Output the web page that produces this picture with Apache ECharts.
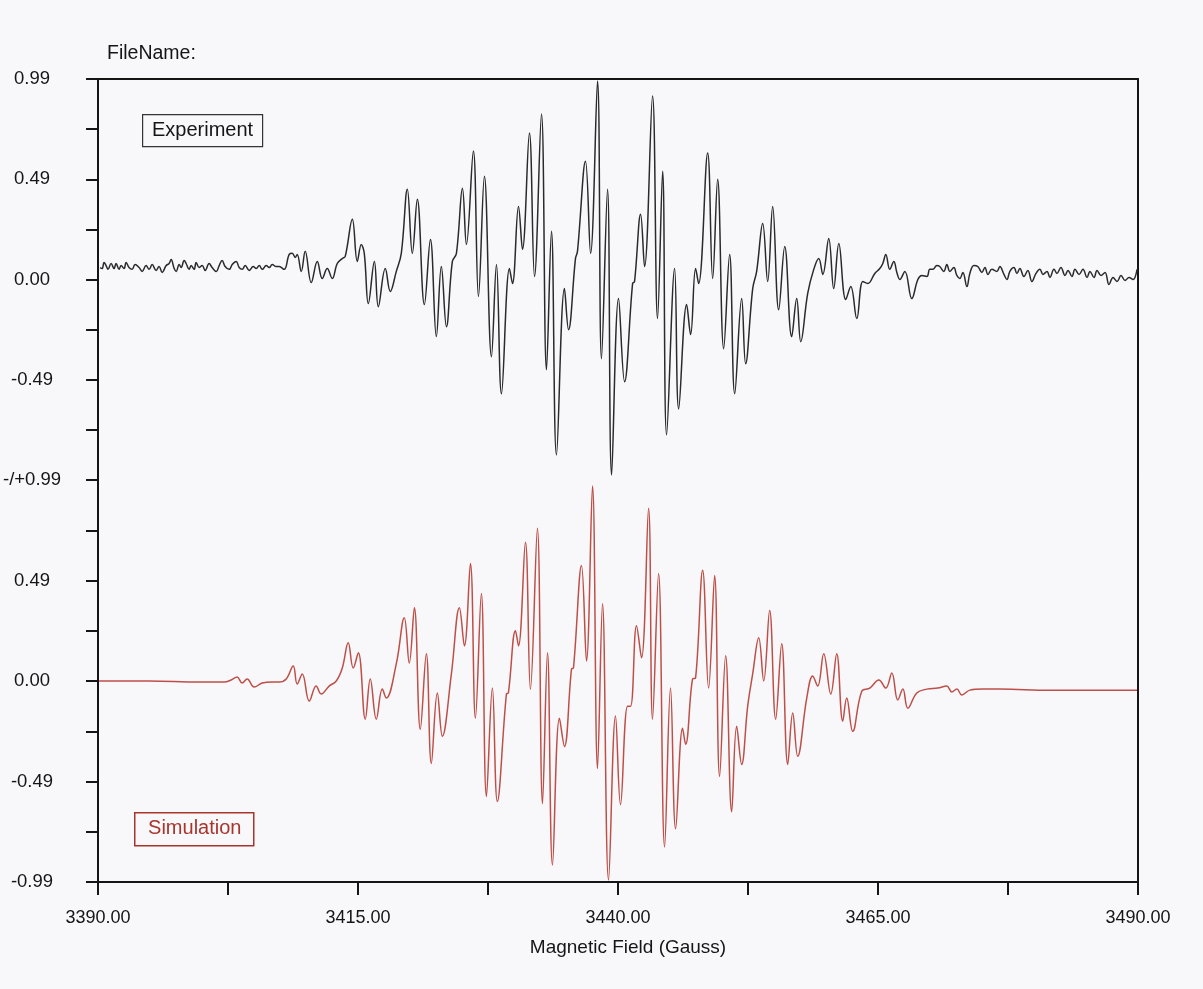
<!DOCTYPE html>
<html>
	<head>
		<title>EPR spectrum</title>
		<meta charset="UTF-8">
		<script src="https://cdn.jsdelivr.net/npm/echarts@6/dist/echarts.min.js" type="text/javascript"></script>
		<style>
			html, body { margin: 0; padding: 0; background: #f8f8fa; }
			#chart { width: 1203px; height: 989px; }
		</style>
	</head>
	<body>
		<div id="chart"></div>
		<script type="text/javascript">
			// values: [field (G), normalised intensity]
			var expPoints = [
				[3390.19,0.059],[3390.39,0.054],[3390.58,0.084],[3390.77,0.069],[3390.96,0.050],[3391.25,0.079],[3391.54,0.054],[3391.73,0.079],[3392.02,0.050],[3392.21,0.069],
				[3392.50,0.054],[3392.70,0.084],[3392.98,0.059],[3393.27,0.050],[3393.56,0.074],[3393.95,0.059],[3394.24,0.040],[3394.62,0.069],[3394.91,0.050],[3395.20,0.074],
				[3395.58,0.045],[3395.87,0.064],[3396.16,0.035],[3396.55,0.069],[3396.83,0.079],[3397.03,0.099],[3397.32,0.054],[3397.51,0.040],[3397.80,0.074],[3397.99,0.059],
				[3398.28,0.094],[3398.47,0.079],[3398.76,0.050],[3398.95,0.069],[3399.24,0.050],[3399.43,0.084],[3399.72,0.059],[3400.01,0.069],[3400.30,0.045],[3400.68,0.079],
				[3400.97,0.059],[3401.36,0.040],[3401.65,0.069],[3401.93,0.094],[3402.22,0.064],[3402.61,0.050],[3402.90,0.074],[3403.28,0.089],[3403.57,0.059],[3403.86,0.050],
				[3404.15,0.069],[3404.53,0.045],[3404.92,0.064],[3405.21,0.054],[3405.50,0.069],[3405.79,0.050],[3406.17,0.069],[3406.46,0.059],[3406.75,0.074],[3407.13,0.064],
				[3407.42,0.064],[3407.90,0.050],[3408.38,0.124],[3408.67,0.129],[3408.96,0.109],[3409.15,0.124],[3409.54,0.040],[3409.92,0.139],[3410.50,-0.015],[3411.08,0.089],
				[3411.56,0.005],[3412.04,0.054],[3412.52,0.005],[3413.00,0.079],[3413.49,0.104],[3413.77,0.114],[3414.45,0.297],[3414.93,0.089],[3415.31,0.173],[3415.60,0.129],
				[3415.99,-0.119],[3416.57,0.089],[3416.95,-0.134],[3417.62,0.054],[3418.10,-0.059],[3418.68,0.040],[3419.16,0.129],[3419.74,0.446],[3420.22,0.129],[3420.70,0.396],
				[3421.38,-0.124],[3421.96,0.198],[3422.53,-0.282],[3423.01,0.064],[3423.50,-0.233],[3424.07,0.089],[3424.46,0.129],[3425.04,0.450],[3425.42,0.173],[3426.09,0.634],
				[3426.58,-0.084],[3427.15,0.510],[3427.83,-0.381],[3428.31,0.074],[3428.79,-0.564],[3429.56,0.054],[3429.85,-0.020],[3430.43,0.361],[3430.81,0.149],[3431.48,0.723],
				[3431.97,0.015],[3432.64,0.817],[3433.12,-0.446],[3433.60,0.238],[3434.08,-0.866],[3434.85,-0.045],[3435.24,-0.248],[3435.91,0.104],[3436.10,0.139],[3436.87,0.584],
				[3437.36,0.129],[3438.03,0.980],[3438.41,-0.391],[3438.99,0.446],[3439.38,-0.965],[3440.05,-0.094],[3440.63,-0.505],[3441.40,-0.020],[3441.59,-0.010],[3442.17,0.322],
				[3442.55,0.064],[3443.32,0.906],[3443.80,-0.193],[3444.29,0.535],[3444.67,-0.767],[3445.44,0.054],[3445.83,-0.639],[3446.60,-0.124],[3446.98,-0.272],[3447.46,0.054],
				[3447.75,-0.020],[3448.62,0.624],[3449.10,0.005],[3449.58,0.495],[3450.16,-0.342],[3450.73,0.124],[3451.22,-0.564],[3451.89,-0.094],[3452.27,-0.416],[3452.95,-0.045],
				[3453.33,0.040],[3453.91,0.277],[3454.39,-0.010],[3454.87,0.361],[3455.45,-0.149],[3456.03,0.163],[3456.70,-0.282],[3457.18,-0.094],[3457.57,-0.307],[3458.24,-0.069],
				[3458.82,0.050],[3459.30,0.104],[3459.69,0.025],[3460.26,0.203],[3460.74,-0.045],[3461.23,0.178],[3461.90,-0.099],[3462.38,-0.035],[3462.96,-0.193],[3463.54,-0.010],
				[3464.02,-0.020],[3464.69,0.030],[3465.17,0.054],[3465.46,0.079],[3465.75,0.124],[3466.13,0.050],[3466.52,0.089],[3466.81,0.035],[3467.10,0.000],[3467.58,0.040],
				[3468.25,-0.094],[3468.83,0.000],[3469.21,0.020],[3469.70,0.015],[3469.98,0.050],[3470.27,0.050],[3470.66,0.069],[3470.94,0.064],[3471.33,0.040],[3471.62,0.074],
				[3471.91,0.040],[3472.29,0.059],[3472.58,0.020],[3472.87,0.005],[3473.16,0.035],[3473.55,-0.035],[3473.83,0.030],[3474.22,0.069],[3474.60,0.064],[3474.99,0.035],
				[3475.28,0.059],[3475.57,0.025],[3475.95,0.050],[3476.43,0.040],[3476.72,0.064],[3477.11,0.025],[3477.40,0.000],[3477.68,0.040],[3478.07,0.059],[3478.36,0.030],
				[3478.64,0.054],[3479.03,0.015],[3479.41,0.045],[3479.80,-0.010],[3480.19,0.030],[3480.57,0.050],[3480.86,0.025],[3481.25,0.040],[3481.53,0.010],[3481.92,0.050],
				[3482.21,0.030],[3482.59,0.059],[3482.98,0.020],[3483.27,0.045],[3483.65,0.015],[3483.94,0.050],[3484.33,0.025],[3484.71,0.050],[3485.10,0.010],[3485.38,0.040],
				[3485.77,0.010],[3486.06,0.045],[3486.44,0.020],[3486.83,0.035],[3487.21,-0.025],[3487.60,0.010],[3487.98,-0.010],[3488.37,0.020],[3488.75,-0.005],[3489.14,0.010],
				[3489.52,0.000],[3489.91,0.050]
			];

			var simPoints = [
				[3390.10,0],[3394.91,0],[3399.72,-0.005],[3402.13,-0.005],[3402.80,0.005],[3403.38,0.020],[3403.86,-0.010],[3404.34,0.010],[3405.02,-0.030],[3405.79,-0.010],
				[3406.75,-0.005],[3407.42,-0.005],[3408.10,0.010],[3408.77,0.074],[3409.15,-0.015],[3409.64,0.035],[3410.31,-0.099],[3410.98,-0.025],[3411.46,-0.064],[3412.23,-0.025],
				[3412.91,0],[3413.49,0.064],[3414.06,0.188],[3414.54,0.064],[3415.03,0.139],[3415.70,-0.188],[3416.18,0.010],[3416.76,-0.188],[3417.34,-0.040],[3417.72,-0.084],
				[3418.68,0.084],[3419.45,0.312],[3419.93,0.089],[3420.42,0.361],[3420.99,-0.238],[3421.57,0.134],[3422.05,-0.406],[3422.63,-0.059],[3423.11,-0.272],[3423.98,0.035],
				[3424.75,0.361],[3425.23,0.173],[3425.81,0.579],[3426.29,-0.183],[3426.86,0.431],[3427.35,-0.569],[3427.92,-0.035],[3428.40,-0.594],[3429.27,-0.064],[3429.46,-0.059],
				[3430.14,0.248],[3430.43,0.173],[3431.10,0.683],[3431.58,-0.040],[3432.25,0.752],[3432.74,-0.604],[3433.22,0.139],[3433.70,-0.906],[3434.37,-0.183],[3434.85,-0.322],
				[3435.53,0.059],[3435.72,0.064],[3436.49,0.569],[3436.97,0.099],[3437.55,0.960],[3438.03,-0.431],[3438.51,0.381],[3439.09,-0.980],[3439.76,-0.173],[3440.24,-0.609],
				[3440.92,-0.124],[3441.21,-0.124],[3441.78,0.272],[3442.26,0.114],[3442.94,0.851],[3443.32,-0.188],[3443.90,0.530],[3444.48,-0.817],[3445.05,-0.035],[3445.54,-0.728],
				[3446.21,-0.233],[3446.50,-0.312],[3447.17,0.010],[3447.46,0.015],[3448.14,0.545],[3448.71,-0.035],[3449.29,0.520],[3449.77,-0.470],[3450.35,0.124],[3450.93,-0.644],
				[3451.41,-0.223],[3451.89,-0.411],[3452.47,-0.124],[3452.95,0.035],[3453.53,0.213],[3454.01,0],[3454.58,0.347],[3455.16,-0.188],[3455.74,0.183],[3456.32,-0.411],
				[3456.80,-0.158],[3457.28,-0.371],[3458.15,-0.084],[3458.72,0.025],[3459.20,-0.025],[3459.78,0.134],[3460.46,-0.064],[3461.03,0.134],[3461.61,-0.198],[3461.99,-0.084],
				[3462.57,-0.248],[3463.44,-0.050],[3464.21,-0.035],[3465.08,0.005],[3465.75,-0.035],[3466.33,0.040],[3466.90,-0.094],[3467.39,-0.040],[3467.87,-0.134],[3468.73,-0.059],
				[3469.70,-0.040],[3470.75,-0.035],[3471.62,-0.025],[3472.10,-0.054],[3472.58,-0.040],[3473.06,-0.069],[3473.83,-0.045],[3475.08,-0.040],[3476.72,-0.040],[3481.53,-0.045],
				[3489.91,-0.045]
			];

			var xTicks = [3390, 3402.5, 3415, 3427.5, 3440, 3452.5, 3465, 3477.5, 3490];
			var xLabels = [3390, 3415, 3440, 3465, 3490];
			var yTicks = [-0.99, -0.7425, -0.495, -0.2475, 0, 0.2475, 0.495, 0.7425, 0.99];
			var yLabelsTop = [-0.99, -0.495, 0, 0.495, 0.99];
			var yLabelsBottom = [-0.99, -0.495, 0, 0.495];

			var font = 'Liberation Sans, Arial, sans-serif';
			var ink = '#151515';
			var simColor = '#bd4f48';

			function yFmt(v) {
				if (v === 0.99) return '0.99';
				if (v === 0.495) return '0.49';
				if (v === 0) return '0.00';
				if (v === -0.495) return '-0.49';
				return null;
			}

			function leftAxis(grid, labels, minText) {
				return {
					gridIndex: grid, type: 'value', min: -0.99, max: 0.99, position: 'left',
					axisLine: {show: true, onZero: false, lineStyle: {color: ink, width: 2}},
					axisTick: {show: true, inside: false, length: 12, customValues: yTicks, lineStyle: {color: ink, width: 2}},
					axisLabel: {
						customValues: labels, margin: 66, align: 'center',
						fontSize: 18.5, fontFamily: font, color: ink,
						formatter: function (v) { return v === -0.99 ? minText : yFmt(v); }
					},
					splitLine: {show: false}
				};
			}
			function rightAxis(grid) {
				return {
					gridIndex: grid, type: 'value', min: -0.99, max: 0.99, position: 'right',
					axisLine: {show: true, onZero: false, lineStyle: {color: ink, width: 2}},
					axisTick: {show: false}, axisLabel: {show: false}, splitLine: {show: false}
				};
			}

			var option = {
				backgroundColor: '#f8f8fa',
				animation: false,
				title: {
					text: 'FileName:', left: 102, top: 39,
					textStyle: {fontSize: 19.5, fontWeight: 'normal', fontFamily: font, color: ink}
				},
				grid: [
					{left: 98, right: 65, top: 79, height: 401},
					{left: 98, right: 65, top: 480, height: 402}
				],
				xAxis: [
					{
						gridIndex: 0, type: 'value', min: 3390, max: 3490, position: 'top',
						axisLine: {show: true, onZero: false, lineStyle: {color: ink, width: 2}},
						axisTick: {show: false}, axisLabel: {show: false}, splitLine: {show: false}
					},
					{
						gridIndex: 1, type: 'value', min: 3390, max: 3490, position: 'bottom',
						axisLine: {show: true, onZero: false, lineStyle: {color: ink, width: 2}},
						axisTick: {show: true, inside: false, length: 13, customValues: xTicks, lineStyle: {color: ink, width: 2}},
						axisLabel: {
							customValues: xLabels, margin: 27,
							fontSize: 18, fontFamily: font, color: ink,
							formatter: function (v) { return v.toFixed(2); }
						},
						splitLine: {show: false},
						name: 'Magnetic Field (Gauss)', nameLocation: 'middle', nameGap: 56,
						nameTextStyle: {fontSize: 19, fontFamily: font, color: ink, padding: [0, 0, 0, 20]}
					}
				],
				yAxis: [
					leftAxis(0, yLabelsTop, '-/+0.99'),
					rightAxis(0),
					leftAxis(1, yLabelsBottom, '-0.99'),
					rightAxis(1)
				],
				series: [
					{
						name: 'Experiment', type: 'line', xAxisIndex: 0, yAxisIndex: 0,
						data: expPoints, showSymbol: false, smooth: 0.4,
						lineStyle: {color: '#2a2a2a', width: 1.5}
					},
					{
						name: 'Simulation', type: 'line', xAxisIndex: 1, yAxisIndex: 2,
						data: simPoints, showSymbol: false, smooth: 0.4,
						lineStyle: {color: simColor, width: 1.5}
					}
				],
				graphic: [
					{
						type: 'group', left: 142, top: 114,
						children: [
							{type: 'rect', shape: {x: 0, y: 0, width: 120, height: 32}, style: {fill: 'transparent', stroke: '#333', lineWidth: 1.2}},
							{type: 'text', style: {x: 60, y: 16, text: 'Experiment', align: 'center', verticalAlign: 'middle', font: '20px ' + font, fill: ink}}
						]
					},
					{
						type: 'group', left: 134, top: 812,
						children: [
							{type: 'rect', shape: {x: 0, y: 0, width: 119, height: 33}, style: {fill: 'transparent', stroke: '#a8342c', lineWidth: 1.5}},
							{type: 'text', style: {x: 60, y: 16, text: 'Simulation', align: 'center', verticalAlign: 'middle', font: '20px ' + font, fill: '#a8342c'}}
						]
					}
				]
			};

			var chart = echarts.init(document.getElementById('chart'));
			chart.setOption(option);
		</script>
	</body>
</html>
